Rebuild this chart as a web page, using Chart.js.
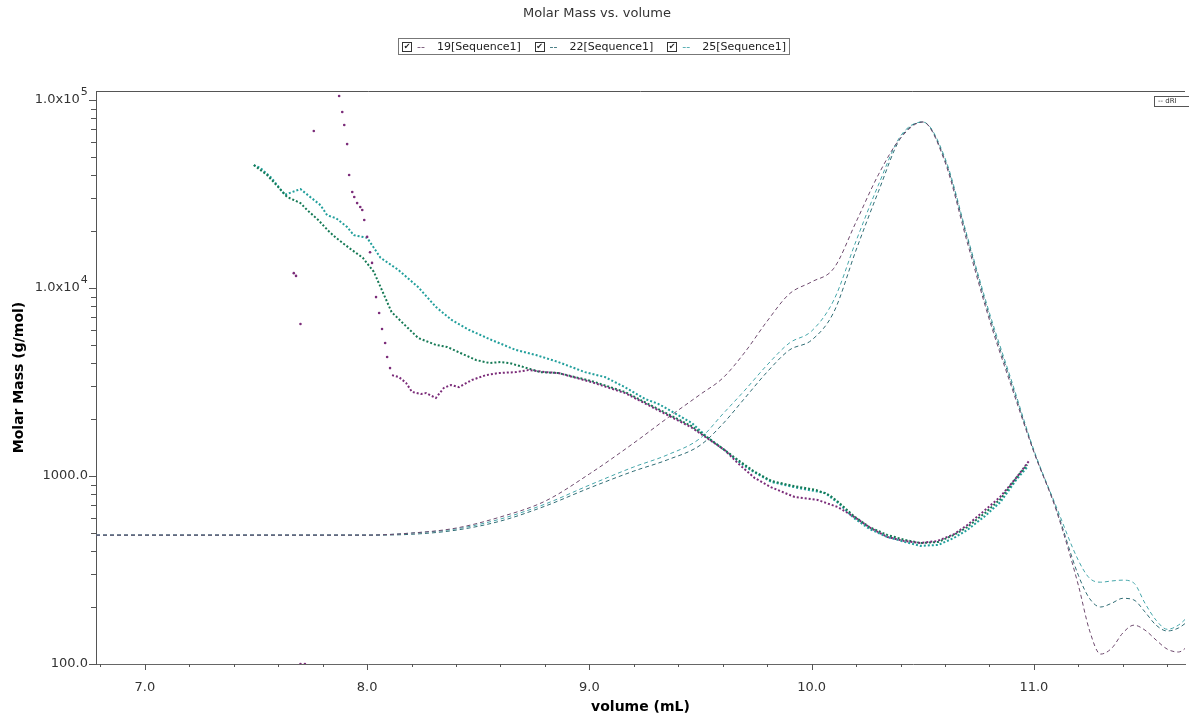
<!DOCTYPE html>
<html>
<head>
<meta charset="utf-8">
<title>Molar Mass vs. volume</title>
<script src="https://cdn.jsdelivr.net/npm/chart.js@4.4.1/dist/chart.umd.min.js"></script>
<style>
    html, body { margin: 0; padding: 0; background: #fff; }
    #wrap { position: relative; width: 1189px; height: 718px; overflow: hidden; font-family: "DejaVu Sans", sans-serif; }
    #chart { position: absolute; left: 0; top: 0; }
    #title { position: absolute; left: 397px; width: 400px; top: 5px; text-align: center; font-size: 13px; color: #333; }
    #legend { position: absolute; left: 398px; width: 384px; top: 38px; height: 15px; padding: 0 3px; border: 1px solid #777; font-size: 11px; color: #222; display: flex; align-items: center; justify-content: space-between; white-space: nowrap; }
    #legend .item { display: flex; align-items: center; }
    #legend .chk { display: inline-block; width: 8px; height: 8px; border: 1px solid #333; font-size: 8px; line-height: 8px; text-align: center; margin-right: 5px; }
    #legend .dash { margin-right: 12px; }
    #driKey { position: absolute; left: 1154px; top: 96px; height: 9px; width: 40px; border: 1px solid #555; font-size: 7px; line-height: 9px; padding-left: 3px; color: #333; white-space: nowrap; }
</style>
</head>
<body>
<div id="wrap">
    <canvas id="chart" width="1189" height="718"></canvas>
    <div id="title">Molar Mass vs. volume</div>
    <div id="legend"></div>
    <div id="driKey">-- dRI</div>
</div>
<script>
// sample names
var seriesNames = ['19[Sequence1]', '22[Sequence1]', '25[Sequence1]'];

// molar mass, sample 19: loose points on the leading edge
var mm19EdgeVol  = [7.67, 7.68, 7.70, 7.70, 7.72, 7.76, 7.874, 7.888, 7.897, 7.910, 7.919, 7.933, 7.942, 7.955, 7.969, 7.978, 7.987, 8.000, 8.013, 8.022, 8.040, 8.054, 8.067, 8.081, 8.090, 8.103];
var mm19EdgeMass = [12000, 11600, 6440, 100, 100, 68400, 105000, 86300, 73600, 58300, 39900, 32400, 30500, 28300, 27000, 26000, 23000, 18700, 15500, 13600, 8950, 7360, 6050, 5100, 4300, 3750];

// molar mass, sample 19: continuous part
var mm19Vol  = [8.112, 8.143, 8.175, 8.202, 8.242, 8.265, 8.309, 8.345, 8.377, 8.413, 8.471, 8.534, 8.592, 8.668, 8.726, 8.803, 8.861, 9.009, 9.161, 9.309, 9.457, 9.610, 9.668, 9.744, 9.816, 9.924, 10.027, 10.117, 10.193, 10.265, 10.341, 10.417, 10.489, 10.565, 10.641, 10.700, 10.776, 10.848, 10.924, 10.982];
var mm19Mass = [3440, 3360, 3130, 2800, 2730, 2760, 2600, 2940, 3050, 2970, 3240, 3440, 3530, 3570, 3660, 3570, 3530, 3160, 2760, 2240, 1820, 1370, 1170, 975, 873, 773, 746, 684, 605, 529, 474, 451, 440, 451, 491, 548, 652, 773, 989, 1220];

// molar mass, sample 22
var mm22Vol  = [7.49, 7.55, 7.60, 7.64, 7.67, 7.70, 7.73, 7.78, 7.83, 7.86, 7.92, 7.98, 8.03, 8.07, 8.11, 8.17, 8.23, 8.31, 8.36, 8.42, 8.49, 8.55, 8.60, 8.64, 8.72, 8.78, 8.86, 9.01, 9.16, 9.31, 9.46, 9.61, 9.68, 9.74, 9.82, 9.92, 10.02, 10.08, 10.12, 10.19, 10.26, 10.34, 10.42, 10.49, 10.57, 10.64, 10.70, 10.78, 10.85, 10.92, 10.97];
var mm22Mass = [45100, 39900, 34400, 30500, 29400, 28300, 26000, 23000, 19900, 18500, 16300, 14500, 12200, 9530, 7450, 6350, 5420, 4980, 4860, 4510, 4140, 3990, 4040, 3990, 3750, 3570, 3530, 3200, 2800, 2270, 1840, 1370, 1190, 1060, 940, 885, 843, 793, 728, 612, 535, 486, 457, 440, 446, 486, 535, 636, 755, 975, 1150];

// molar mass, sample 25
var mm25Vol  = [7.49, 7.52, 7.57, 7.63, 7.65, 7.70, 7.75, 7.79, 7.82, 7.86, 7.91, 7.94, 8.00, 8.06, 8.14, 8.23, 8.31, 8.38, 8.46, 8.56, 8.67, 8.76, 8.86, 8.98, 9.07, 9.16, 9.25, 9.31, 9.46, 9.53, 9.61, 9.68, 9.74, 9.82, 9.94, 10.06, 10.12, 10.19, 10.26, 10.34, 10.42, 10.49, 10.57, 10.64, 10.70, 10.78, 10.85, 10.92, 10.97];
var mm25Mass = [45100, 43500, 38500, 31300, 32000, 33600, 30100, 27600, 24400, 23500, 21100, 19100, 18500, 14500, 12500, 10100, 7920, 6760, 5980, 5290, 4680, 4400, 4040, 3570, 3360, 2970, 2570, 2420, 1920, 1610, 1370, 1170, 1050, 929, 863, 813, 718, 598, 523, 474, 446, 425, 430, 468, 516, 612, 728, 952, 1117];

// dRI traces (relative units, peak = 100)
var driVol = [6.78, 7.0, 7.5, 8.0, 8.2, 8.4, 8.6, 8.8, 9.0, 9.2, 9.35, 9.5, 9.6, 9.7, 9.8, 9.9, 10.0, 10.1, 10.2, 10.3, 10.4, 10.5, 10.6, 10.7, 10.8, 10.9, 11.0, 11.1, 11.2, 11.25, 11.3, 11.35, 11.4, 11.45, 11.5, 11.55, 11.6, 11.65, 11.7];
var dri19  = [0, 0, 0, 0, 0.5, 1.7, 4.4, 8.2, 14.8, 22.3, 28.3, 34.1, 38.0, 44.3, 51.8, 58.4, 61.3, 64.6, 75.8, 87.2, 96.1, 100, 90.3, 70.9, 52.1, 35.8, 20.1, 6.1, -12.1, -23.0, -28.8, -27.4, -23.7, -21.8, -23.0, -25.4, -27.6, -28.3, -26.6];
var dri22  = [0, 0, 0, 0, 0.2, 1.2, 3.4, 7.0, 11.4, 15.5, 18.2, 21.8, 26.9, 33.2, 39.5, 44.8, 47.2, 54.0, 69.0, 83.1, 96.1, 100, 90.8, 71.9, 53.0, 36.6, 20.3, 6.5, -9.7, -15.3, -17.4, -16.5, -15.3, -15.7, -18.6, -21.8, -23.2, -22.5, -20.6];
var dri25  = [0, 0, 0, 0, 0.5, 1.5, 3.9, 7.5, 12.1, 16.5, 19.4, 23.5, 29.3, 35.1, 41.2, 46.5, 49.4, 56.9, 71.2, 84.7, 96.6, 100, 91.3, 72.4, 53.8, 37.3, 20.6, 7.0, -6.1, -10.4, -11.4, -11.1, -10.9, -11.6, -16.5, -20.6, -22.8, -21.8, -19.4];

// axis ticks
var xMajorTicks = [7, 8, 9, 10, 11];
var xTickLabels = ['7.0', '8.0', '9.0', '10.0', '11.0'];
var yMajorTicks = [100, 1000, 10000, 100000];
var yTickLabels = ['100.0', '1000.0', '1.0x10', '1.0x10'];
var yTickExps   = ['', '', '4', '5'];

var colors = {
    mm19: '#7b2c79',
    mm22: '#167a56',
    mm25: '#229f9c',
    dri19: '#6e4a6e',
    dri22: '#2f6c74',
    dri25: '#45a6aa'
};

var TICK_FONT = { family: 'DejaVu Sans', size: 13 };

function pts(xs, ys) {
    return xs.map(function(x, i) { return { x: x, y: ys[i] }; });
}

function buildLegend() {
    var dashColors = [colors.dri19, colors.dri22, colors.dri25];
    var html = '';
    seriesNames.forEach(function(name, i) {
        html += '<span class="item"><span class="chk">&#10004;</span>';
        html += '<span class="dash" style="color:' + dashColors[i] + '">--</span>' + name + '</span>';
    });
    document.getElementById('legend').innerHTML = html;
}

function xTickValues() {
    var vals = [];
    for (var i = 0; i <= 24; i++) {
        vals.push(Math.round((6.8 + i * 0.2) * 10) / 10);
    }
    return vals;
}

function yTickValues() {
    var vals = [];
    [100, 1000, 10000].forEach(function(d) {
        for (var m = 1; m <= 9; m++) vals.push(d * m);
    });
    vals.push(100000);
    return vals;
}

// tick marks, top frame line and the exponents on the y labels
var axisDecor = {
    id: 'axisDecor',
    afterDraw: function(chart) {
        var ctx = chart.ctx;
        var area = chart.chartArea;
        var xs = chart.scales.x;
        var ys = chart.scales.y;

        ctx.save();
        ctx.strokeStyle = '#555';
        ctx.lineWidth = 1;
        ctx.beginPath();
        ctx.moveTo(area.left, area.top + 0.5);
        ctx.lineTo(area.right, area.top + 0.5);

        xs.ticks.forEach(function(t) {
            var px = Math.round(xs.getPixelForValue(t.value)) + 0.5;
            var len = xMajorTicks.indexOf(t.value) >= 0 ? 6 : 3;
            ctx.moveTo(px, area.bottom);
            ctx.lineTo(px, area.bottom + len);
        });
        ys.ticks.forEach(function(t) {
            var py = Math.round(ys.getPixelForValue(t.value)) + 0.5;
            var len = yMajorTicks.indexOf(t.value) >= 0 ? 7 : 5;
            ctx.moveTo(area.left - len, py);
            ctx.lineTo(area.left, py);
        });
        ctx.stroke();

        ctx.font = '13px "DejaVu Sans"';
        var gap = ctx.measureText('  ').width;
        ctx.font = '11px "DejaVu Sans"';
        ctx.fillStyle = '#333';
        ctx.textAlign = 'left';
        ctx.textBaseline = 'alphabetic';
        yMajorTicks.forEach(function(v, i) {
            if (!yTickExps[i]) return;
            var py = ys.getPixelForValue(v);
            ctx.fillText(yTickExps[i], area.left - 8 - gap + 1, py - 5);
        });
        ctx.restore();
    }
};

function dottedMass(label, data, color) {
    return {
        label: label,
        data: data,
        showLine: true,
        borderColor: color,
        borderWidth: 2,
        borderDash: [2, 2],
        pointRadius: 0,
        yAxisID: 'y'
    };
}

function driTrace(label, data, color) {
    return {
        label: label,
        data: data,
        showLine: true,
        borderColor: color,
        borderWidth: 1,
        borderDash: [4, 3],
        pointRadius: 0,
        cubicInterpolationMode: 'monotone',
        yAxisID: 'y2'
    };
}

buildLegend();

new Chart(document.getElementById('chart'), {
    type: 'scatter',
    data: {
        datasets: [
            {
                label: '19 edge',
                data: pts(mm19EdgeVol, mm19EdgeMass),
                showLine: false,
                pointRadius: 1.3,
                pointBorderWidth: 0,
                pointBackgroundColor: colors.mm19,
                yAxisID: 'y'
            },
            dottedMass(seriesNames[0], pts(mm19Vol, mm19Mass), colors.mm19),
            dottedMass(seriesNames[1], pts(mm22Vol, mm22Mass), colors.mm22),
            dottedMass(seriesNames[2], pts(mm25Vol, mm25Mass), colors.mm25),
            driTrace('dRI 19', pts(driVol, dri19), colors.dri19),
            driTrace('dRI 22', pts(driVol, dri22), colors.dri22),
            driTrace('dRI 25', pts(driVol, dri25), colors.dri25)
        ]
    },
    options: {
        responsive: false,
        animation: false,
        layout: { padding: { top: 91, left: 0, right: 0, bottom: 0 } },
        plugins: {
            legend: { display: false },
            tooltip: { enabled: false }
        },
        scales: {
            x: {
                type: 'linear',
                min: 6.78,
                max: 11.68,
                afterBuildTicks: function(scale) {
                    scale.ticks = xTickValues().map(function(v) { return { value: v }; });
                },
                afterFit: function(scale) { scale.height = 54; },
                grid: { display: false, drawTicks: false },
                border: { display: true, color: '#666', width: 1 },
                ticks: {
                    padding: 16,
                    color: '#333',
                    font: TICK_FONT,
                    maxRotation: 0,
                    autoSkip: false,
                    callback: function(value) {
                        var i = xMajorTicks.indexOf(value);
                        return i >= 0 ? xTickLabels[i] : '';
                    }
                },
                title: {
                    display: true,
                    text: 'volume (mL)',
                    color: '#000',
                    font: { family: 'DejaVu Sans', size: 14, weight: 'bold' },
                    padding: { top: 0, bottom: 2 }
                }
            },
            y: {
                type: 'logarithmic',
                min: 100,
                max: 111700,
                afterBuildTicks: function(scale) {
                    scale.ticks = yTickValues().map(function(v) { return { value: v }; });
                },
                afterFit: function(scale) { scale.width = 96; },
                grid: { display: false, drawTicks: false },
                border: { display: true, color: '#555', width: 1 },
                ticks: {
                    padding: 8,
                    color: '#333',
                    font: TICK_FONT,
                    autoSkip: false,
                    callback: function(value) {
                        var i = yMajorTicks.indexOf(value);
                        if (i < 0) return '';
                        return yTickExps[i] ? yTickLabels[i] + '  ' : yTickLabels[i];
                    }
                },
                title: {
                    display: true,
                    text: 'Molar Mass (g/mol)',
                    color: '#000',
                    font: { family: 'DejaVu Sans', size: 14, weight: 'bold' },
                    padding: { top: 11, bottom: 0 }
                }
            },
            y2: {
                type: 'linear',
                display: false,
                min: -31.2,
                max: 107.5
            }
        }
    },
    plugins: [axisDecor]
});
</script>
</body>
</html>
